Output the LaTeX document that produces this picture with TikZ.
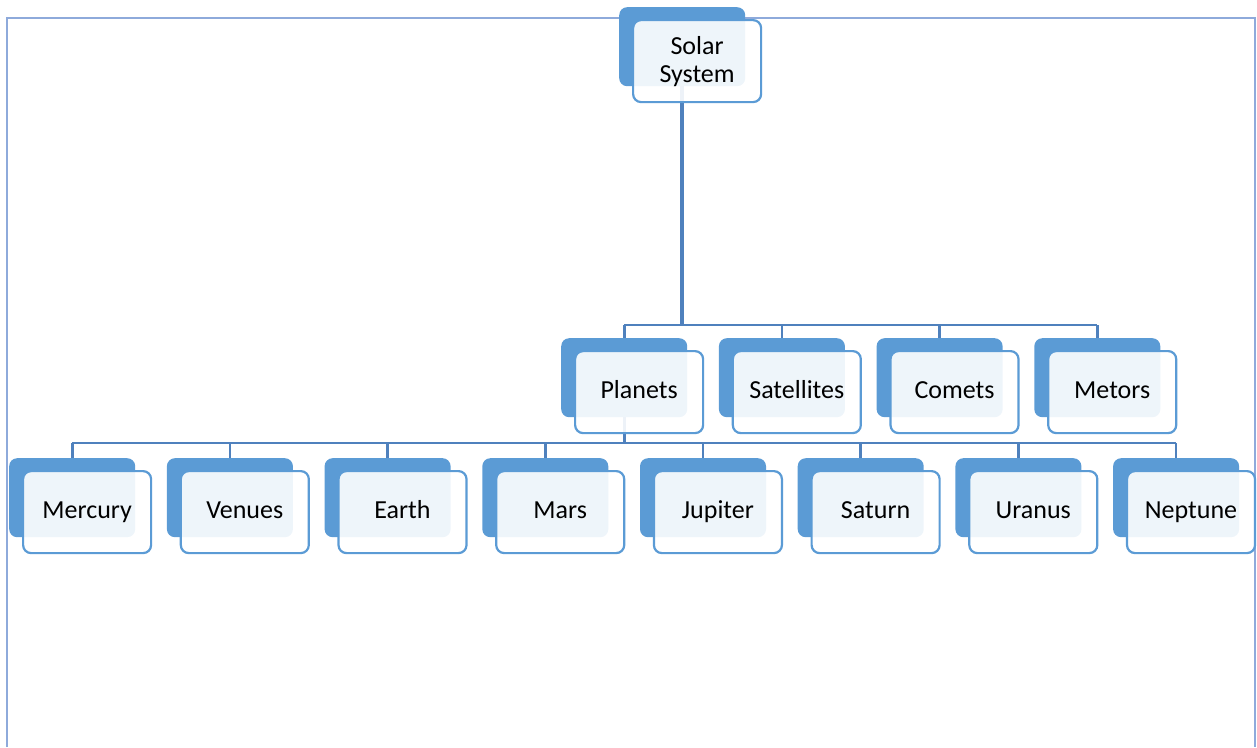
\documentclass[tikz,border=0pt]{standalone}
\usepackage{fontspec}
\setmainfont{Carlito}
\usetikzlibrary{backgrounds}
\definecolor{boxblue}{HTML}{5B9BD5}
\definecolor{linkblue}{HTML}{4F81BD}
\definecolor{framecol}{HTML}{8EAADB}
\tikzset{
  backbox/.style={minimum width=126pt, minimum height=79pt, inner sep=0pt,
    rounded corners=8pt, fill=boxblue, draw=none},
  frontbox/.style={minimum width=128pt, minimum height=82pt, inner sep=0pt,
    rounded corners=8pt, fill=white, fill opacity=0.9, text opacity=1,
    draw=boxblue, line width=2.2pt, align=center,
    text height=17pt, text depth=5pt,
    font=\fontsize{26}{28}\selectfont},
  link/.style={draw=linkblue, line width=2.6pt},
  mainlink/.style={draw=linkblue, line width=3.6pt}
}
\newcommand\twobox[5][]{%
  \node[backbox, anchor=north west] (#2b) at (#3,#4) {};
  \node[frontbox, #1, anchor=north west] (#2) at ({#3+13},{#4+12}) {#5};
}
\begin{document}
\begin{tikzpicture}[x=1pt,y=-1pt]
\useasboundingbox (0,0) rectangle (1257,747);
\draw[framecol, line width=2.2pt] (7,747) -- (7,18) -- (1255,18) -- (1255,747);

\twobox[text height=, text depth=]{sun}{619}{7}{Solar\\System}

\twobox{pla}{561}{338}{Planets}
\twobox{sat}{718.7}{338}{Satellites}
\twobox{com}{876.4}{338}{Comets}
\twobox{met}{1034.1}{338}{Metors}

\twobox{mer}{9}{458}{Mercury}
\twobox{ven}{166.7}{458}{Venues}
\twobox{ear}{324.4}{458}{Earth}
\twobox{mar}{482.1}{458}{Mars}
\twobox{jup}{639.8}{458}{Jupiter}
\twobox{sau}{797.5}{458}{Saturn}
\twobox{ura}{955.2}{458}{Uranus}
\twobox{nep}{1112.9}{458}{Neptune}

\coordinate (bustwo) at (0,325);
\coordinate (busthree) at (0,443);
\begin{pgfonlayer}{background}
  \draw[mainlink] (sunb.center) -- (sunb.center |- bustwo);
  \draw[link] (plab.north |- bustwo) -- (metb.north |- bustwo);
  \foreach \n in {pla,sat,com,met}
    \draw[link] (\n b.north |- bustwo) -- (\n b.north);
  \draw[link] (plab.center) -- (plab.center |- busthree);
  \draw[link] (merb.north |- busthree) -- (nepb.north |- busthree);
  \foreach \n in {mer,ven,ear,mar,jup,sau,ura,nep}
    \draw[link] (\n b.north |- busthree) -- (\n b.north);
\end{pgfonlayer}
\end{tikzpicture}
\end{document}
